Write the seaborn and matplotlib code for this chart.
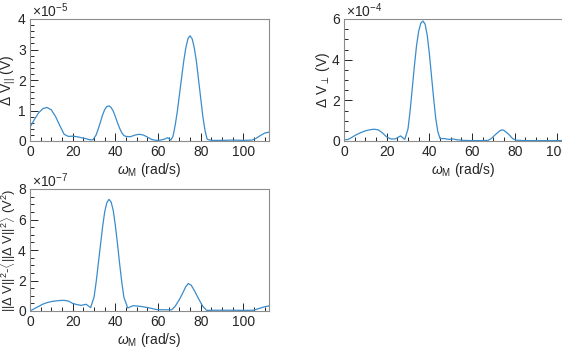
import numpy as np
import pandas as pd
import seaborn as sns
import matplotlib.pyplot as plt
from matplotlib.ticker import MultipleLocator

# data (x in rad/s)
x_par = [0, 2, 4, 6, 8, 10, 12, 14, 16, 18, 20, 22, 24, 26, 28, 29.5,
         31, 32, 33, 34, 35, 36, 37, 38, 39, 40, 41, 42, 43, 44, 45, 47,
         49, 51, 53, 55, 57, 59, 61, 63, 64.5, 66, 67, 68, 69, 70, 71, 72,
         73, 74, 75, 76, 77, 78, 79, 80, 81, 82, 83, 85, 90, 95, 100, 104,
         106, 108, 110, 112]
v_par = [0.45, 0.7, 0.92, 1.06, 1.1, 1.02, 0.8, 0.5, 0.22, 0.15, 0.16, 0.14,
         0.11, 0.08, 0.04, 0.04,
         0.2, 0.4, 0.62, 0.85, 1.03, 1.13, 1.15, 1.1, 0.98, 0.8, 0.6, 0.42,
         0.27, 0.18, 0.15, 0.14,
         0.19, 0.22, 0.2, 0.13, 0.05, 0.02, 0.03, 0.06, 0.11, 0.03, 0.15,
         0.5, 0.95, 1.5, 2.05, 2.6,
         3.05, 3.35, 3.45, 3.35, 3.05, 2.6, 2.0, 1.4, 0.8, 0.35, 0.06, 0.02,
         0.02, 0.03, 0.02, 0.03,
         0.09, 0.18, 0.26, 0.29]

x_perp = [0, 2, 4, 6, 8, 10, 12, 14, 16, 18, 20, 22, 24, 26.5, 28.5,
          30, 31, 32, 33, 34, 35, 36, 37, 38, 39, 40, 41, 42, 43, 44, 45,
          47, 49, 51, 53, 56, 60, 64, 67.5, 69, 71, 73, 74, 75, 77, 79,
          80.5, 85, 90, 95, 100, 105, 110, 112]
v_perp = [0.05, 0.08, 0.2, 0.32, 0.42, 0.5, 0.55, 0.58, 0.55, 0.4, 0.2,
          0.1, 0.1, 0.25, 0.08,
          0.6, 1.5, 2.6, 3.7, 4.7, 5.4, 5.8, 5.9, 5.75, 5.2, 4.3, 3.2, 2.1,
          1.1, 0.45, 0.12,
          0.12, 0.08, 0.1, 0.06, 0.03, 0.02, 0.02, 0.03, 0.12, 0.32, 0.5,
          0.55, 0.52, 0.35, 0.12,
          0.04, 0.02, 0.02, 0.02, 0.02, 0.02, 0.02, 0.03]

x_var = [0, 2, 4, 6, 8, 10, 12, 14, 16, 18, 20, 22, 24, 26.3, 28.4,
         30, 31, 32, 33, 34, 35, 36, 37, 38, 39, 40, 41, 42, 43, 44, 45.8,
         48.4, 52, 56, 59.4, 63, 66.4, 68, 70, 72, 73, 74.2, 75.5, 77, 79,
         81, 82.8, 86, 90, 95, 100, 104.7, 107, 110, 112]
v_var = [0.0, 0.15, 0.3, 0.45, 0.55, 0.62, 0.66, 0.69, 0.7, 0.65, 0.5,
         0.42, 0.37, 0.44, 0.22,
         0.9, 1.9, 3.1, 4.3, 5.5, 6.5, 7.1, 7.32, 7.15, 6.6, 5.6, 4.4,
         3.1, 1.9, 0.9, 0.2,
         0.35, 0.3, 0.2, 0.09, 0.08, 0.08, 0.3, 0.75, 1.3, 1.6, 1.8, 1.7,
         1.35, 0.8,
         0.3, 0.04, 0.05, 0.05, 0.05, 0.04, 0.05, 0.15, 0.28, 0.33]

sns.set_style('white')
plt.rcParams['font.family'] = ['Liberation Sans', 'DejaVu Sans']
plt.rcParams['mathtext.fontset'] = 'custom'
plt.rcParams['mathtext.rm'] = 'Liberation Sans'
plt.rcParams['mathtext.it'] = 'Liberation Sans:italic'

fs = 10
line_color = '#3a8ccc'
text_color = '#262626'

fig = plt.figure(figsize=(5.62, 3.47), dpi=100)
w, h = 239 / 562, 122 / 347
ax1 = fig.add_axes([30 / 562, 206 / 347, w, h])
ax2 = fig.add_axes([344 / 562, 206 / 347, w, h])
ax3 = fig.add_axes([30 / 562, 36 / 347, w, h])

panels = [
    (ax1, x_par, v_par, 4, 1, 0.2, '-5', r'$\Delta$ V$_{||}$ (V)', fs),
    (ax2, x_perp, v_perp, 6, 2, 0.5, '-4', r'$\Delta$ V$_{\perp}$ (V)', fs),
    (ax3, x_var, v_var, 8, 2, 0.5, '-7',
     r'||$\Delta$ V||$^2$-$\langle$||$\Delta$ V||$^2\rangle$ (V$^2$)', 9.3),
]

for ax, xs, ys, ymax, ymaj, ymin, expo, ylab, yfs in panels:
    df = pd.DataFrame({'w': xs, 'v': ys})
    sns.lineplot(data=df, x='w', y='v', ax=ax, color=line_color, lw=0.9)
    ax.set_xlim(0, 112)
    ax.set_ylim(0, ymax)
    ax.xaxis.set_major_locator(MultipleLocator(20))
    ax.xaxis.set_minor_locator(MultipleLocator(5))
    ax.yaxis.set_major_locator(MultipleLocator(ymaj))
    ax.yaxis.set_minor_locator(MultipleLocator(ymin))
    ax.tick_params(which='both', direction='in', bottom=True, left=True,
                   top=False, right=False, colors=text_color,
                   labelcolor=text_color, labelsize=fs)
    ax.tick_params(which='major', length=6, width=0.7, pad=3)
    ax.tick_params(which='minor', length=3, width=0.7)
    for s in ax.spines.values():
        s.set_color('#8c8c8c')
        s.set_linewidth(0.8)
    ax.set_xlabel(r'$\omega_{\rm M}$ (rad/s)', color=text_color, fontsize=fs,
                  labelpad=1)
    ax.set_ylabel(ylab, color=text_color, fontsize=yfs, labelpad=0)
    ax.text(0.01, 0.99, r'$\times$10$^{%s}$' % expo, transform=ax.transAxes,
            ha='left', va='bottom', color=text_color, fontsize=fs)

fig.savefig('out.png', dpi=100)
